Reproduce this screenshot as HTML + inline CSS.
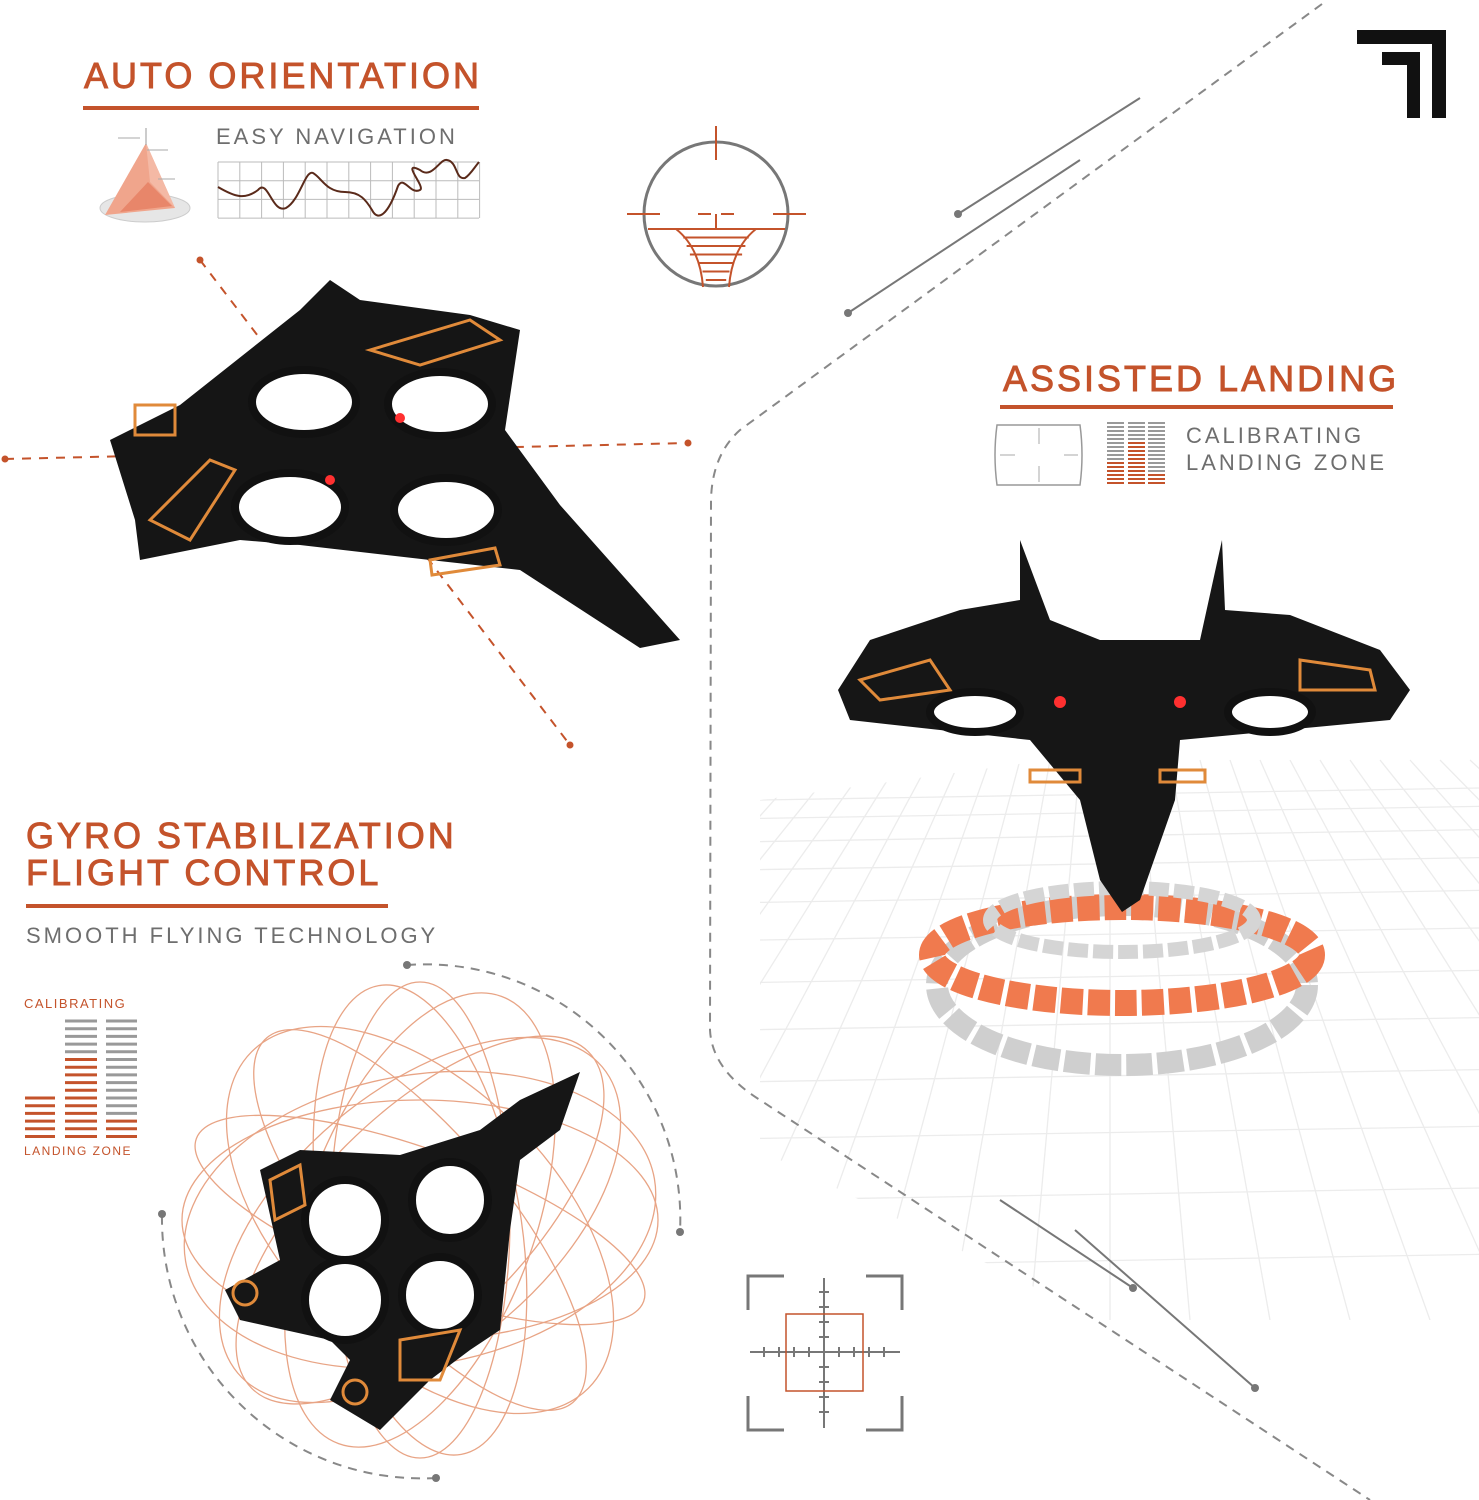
<!DOCTYPE html>
<html><head><meta charset="utf-8">
<style>
html,body{margin:0;padding:0;background:#fff;width:1479px;height:1500px;overflow:hidden;}
#w{position:relative;width:1479px;height:1500px;overflow:hidden;background:#fff;font-family:"Liberation Sans",sans-serif;}
.h{position:absolute;color:#c4532b;font-size:36px;letter-spacing:3px;font-weight:normal;line-height:1;white-space:nowrap;-webkit-text-stroke:0.9px #c4532b}
.s{position:absolute;color:#6e6e6e;font-size:22px;letter-spacing:3px;line-height:1;white-space:nowrap}
.u{position:absolute;height:4px;background:#c4532b}
svg{position:absolute;left:0;top:0;display:block}
</style></head><body>
<div id="w">
<svg id="g" width="1479" height="1500" viewBox="0 0 1479 1500"></svg>
<div class="h" style="left:84px;top:58px">AUTO ORIENTATION</div>
<div class="u" style="left:83px;top:106px;width:396px"></div>
<div class="s" style="left:216px;top:126px">EASY NAVIGATION</div>
<div class="h" style="left:1003px;top:361px">ASSISTED LANDING</div>
<div class="u" style="left:1000px;top:405px;width:393px"></div>
<div class="s" style="left:1186px;top:425px">CALIBRATING</div>
<div class="s" style="left:1186px;top:452px">LANDING ZONE</div>
<div class="h" style="left:26px;top:818px">GYRO STABILIZATION</div>
<div class="h" style="left:26px;top:855px">FLIGHT CONTROL</div>
<div class="u" style="left:26px;top:904px;width:362px"></div>
<div class="s" style="left:26px;top:925px">SMOOTH FLYING TECHNOLOGY</div>
<div class="s" style="left:24px;top:997px;font-size:13px;letter-spacing:1.5px;color:#c4532b">CALIBRATING</div>
<div class="s" style="left:24px;top:1145px;font-size:12px;letter-spacing:1.5px;color:#c4532b">LANDING ZONE</div>
</div>
<script>
const O="#c4532b",G="#7a7a7a";
let s='<defs><clipPath id="gc"><path d="M760 800 L1479 700 L1479 1320 L1100 1320 L760 1150Z"/></clipPath></defs>';
s+='<g clip-path="url(#gc)" stroke="#ececec" stroke-width="1.3">';
for(let i=0;i<16;i++){const y=800+i*i*2.4+i*16;s+=`<line x1="760" y1="${y}" x2="1479" y2="${y-12}"/>`;}
for(let i=-16;i<=16;i++){s+=`<line x1="${1110+i*30}" y1="760" x2="${1110+i*80}" y2="1320"/>`;}
s+='</g>';
s+=`<path d="M1322 4 L740 430 Q712 455 711 500 L710 1030 Q712 1070 760 1100 L1370 1500" fill="none" stroke="#888" stroke-width="2" stroke-dasharray="9 7"/>`;
s+=`<line x1="958" y1="214" x2="1140" y2="98" stroke="#777" stroke-width="2"/><circle cx="958" cy="214" r="4" fill="#777"/>`;
s+=`<line x1="848" y1="313" x2="1080" y2="160" stroke="#777" stroke-width="2"/><circle cx="848" cy="313" r="4" fill="#777"/>`;
s+=`<line x1="1000" y1="1200" x2="1133" y2="1288" stroke="#777" stroke-width="2"/><circle cx="1133" cy="1288" r="4" fill="#777"/>`;
s+=`<line x1="1075" y1="1230" x2="1255" y2="1388" stroke="#777" stroke-width="2"/><circle cx="1255" cy="1388" r="4" fill="#777"/>`;
s+=`<path d="M1357 30 H1446 V118 H1432 V44 H1357Z M1382 52 H1420 V118 H1407 V65 H1382Z" fill="#111"/>`;
s+=`<ellipse cx="145" cy="208" rx="45" ry="14" fill="#e6e6e6" stroke="#ccc"/>`;
s+=`<polygon points="146,143 105,215 175,208" fill="#f0a58c"/><polygon points="146,143 150,182 175,208" fill="#f4b9a5"/><polygon points="148,182 120,212 172,206" fill="#e8866a"/>`;
s+=`<line x1="146" y1="128" x2="146" y2="145" stroke="#999"/><line x1="118" y1="138" x2="140" y2="138" stroke="#aaa"/><line x1="147" y1="150" x2="168" y2="150" stroke="#aaa"/><line x1="158" y1="179" x2="175" y2="179" stroke="#aaa"/>`;
for(let i=0;i<=12;i++)s+=`<line x1="${218+i*21.8}" y1="162" x2="${218+i*21.8}" y2="218" stroke="#bbb"/>`;
for(let j=0;j<4;j++)s+=`<line x1="218" y1="${162+j*18.7}" x2="479" y2="${162+j*18.7}" stroke="#bbb"/>`;
s+=`<path d="M218 187 C235 197 245 200 258 190 C268 178 272 214 286 208 C300 200 305 170 313 173 C322 178 326 192 345 192 C360 192 366 200 372 210 C378 222 388 215 398 186 C404 175 410 195 420 190 C426 187 400 160 420 170 C432 180 440 158 447 160 C458 162 455 180 465 178 C470 175 474 168 479 162" fill="none" stroke="#5a2a1a" stroke-width="2"/>`;
s+=`<circle cx="716" cy="214" r="72" fill="none" stroke="#777" stroke-width="3"/>`;
s+=`<g stroke="${O}" stroke-width="2"><line x1="716" y1="126" x2="716" y2="160"/><line x1="627" y1="214" x2="660" y2="214"/><line x1="773" y1="214" x2="806" y2="214"/><line x1="698" y1="214" x2="711" y2="214"/><line x1="721" y1="214" x2="734" y2="214"/><line x1="716" y1="214" x2="716" y2="228"/><line x1="648" y1="229" x2="785" y2="229"/><path d="M676 229 Q700 248 703 287 M756 229 Q732 248 729 287" fill="none"/>`;
for(let k=1;k<7;k++){const y=229+k*8.5;const d=k*3.3;s+=`<line x1="${680+d+ (k>3?6:0)}" y1="${y}" x2="${752-d-(k>3?6:0)}" y2="${y}"/>`;}
s+=`</g>`;
s+=`<g stroke="${O}" stroke-width="2" stroke-dasharray="9 8" fill="none"><line x1="200" y1="260" x2="570" y2="745"/><line x1="5" y1="459" x2="688" y2="443"/></g>`;
s+=`<g fill="${O}"><circle cx="200" cy="260" r="3.5"/><circle cx="570" cy="745" r="3.5"/><circle cx="5" cy="459" r="3.5"/><circle cx="688" cy="443" r="3.5"/></g>`;
s+=`<path d="M997 425 H1080 Q1084 455 1080 485 H997 Q993 455 997 425Z" fill="none" stroke="#999" stroke-width="1.5"/><g stroke="#aaa"><line x1="1039" y1="428" x2="1039" y2="444"/><line x1="1039" y1="466" x2="1039" y2="482"/><line x1="1000" y1="455" x2="1015" y2="455"/><line x1="1064" y1="455" x2="1078" y2="455"/></g>`;
function bars(x,y0,n,step,w,nOr,lw){let r='';for(let k=0;k<n;k++){const y=y0+k*step;const c=(k>=n-nOr)?O:"#999";r+=`<line x1="${x}" y1="${y}" x2="${x+w}" y2="${y}" stroke="${c}" stroke-width="${lw}"/>`;}return r;}
s+=bars(1107,423,16,4,17,6,2)+bars(1128,423,16,4,17,11,2)+bars(1148,423,16,4,17,3,2);
s+=bars(25,1098,6,7.7,30,6,3)+bars(65,1021,16,7.7,32,11,3)+bars(106,1021,16,7.7,31,3,3);
s+=`<g stroke="#777" stroke-width="3" fill="none"><path d="M748 1310 V1276 H784 M866 1276 H902 V1310 M748 1396 V1430 H784 M866 1430 H902 V1396"/></g>`;
s+=`<g stroke="#777" stroke-width="2"><line x1="824" y1="1278" x2="824" y2="1428"/><line x1="750" y1="1352" x2="900" y2="1352"/>`;
for(let k=-4;k<=4;k++){if(!k)continue;s+=`<line x1="${824+k*15}" y1="1347" x2="${824+k*15}" y2="1357"/><line x1="819" y1="${1352+k*15}" x2="829" y2="${1352+k*15}"/>`;}
s+=`</g><rect x="786" y="1314" width="77" height="77" fill="none" stroke="${O}" stroke-width="1.5"/>`;
s+=`<ellipse cx="1122" cy="985" rx="185" ry="80" fill="none" stroke="#cfcfcf" stroke-width="22" stroke-dasharray="26 5"/>`;
s+=`<ellipse cx="1122" cy="955" rx="190" ry="48" fill="none" stroke="#f07a4e" stroke-width="26" stroke-dasharray="22 5"/>`;
s+=`<ellipse cx="1122" cy="920" rx="132" ry="32" fill="none" stroke="#d5d5d5" stroke-width="14" stroke-dasharray="20 5"/>`;
s+=`<g fill="none" stroke="#e8a485" stroke-width="1.3">`;
for(let a=0;a<180;a+=30)s+=`<ellipse cx="420" cy="1220" rx="238" ry="${70+a/2}" transform="rotate(${a+20} 420 1220)"/>`;
for(let a=0;a<180;a+=45)s+=`<ellipse cx="420" cy="1220" rx="${90+a/3}" ry="238" transform="rotate(${a} 420 1220)"/>`;
s+=`</g>`;
s+=`<path d="M407 965 A255 255 0 0 1 680 1232" fill="none" stroke="#888" stroke-width="2" stroke-dasharray="9 7"/><path d="M436 1478 A260 260 0 0 1 162 1214" fill="none" stroke="#888" stroke-width="2" stroke-dasharray="9 7"/>`;
s+=`<g fill="#777"><circle cx="407" cy="965" r="4"/><circle cx="680" cy="1232" r="4"/><circle cx="436" cy="1478" r="4"/><circle cx="162" cy="1214" r="4"/></g>`;
function ring(cx,cy,rx,ry){return `<ellipse cx="${cx}" cy="${cy}" rx="${rx}" ry="${ry}" fill="#fff" stroke="#111" stroke-width="8"/>`;}
s+=`<polygon points="110,440 180,405 300,310 330,280 360,300 470,315 520,330 505,430 560,505 680,640 640,648 520,570 430,560 300,545 240,540 140,560 135,520" fill="#151515"/>`;
s+=ring(304,402,52,32)+ring(440,404,52,32)+ring(290,507,55,34)+ring(446,510,52,32);
s+=`<g fill="none" stroke="#e08a3a" stroke-width="3"><path d="M370 350 L470 320 L500 340 L420 365Z"/><path d="M150 520 L210 460 L235 470 L190 540Z"/><path d="M430 560 L495 548 L500 565 L432 575Z"/><rect x="135" y="405" width="40" height="30"/></g>`;
s+=`<circle cx="330" cy="480" r="5" fill="#ff3030"/><circle cx="400" cy="418" r="5" fill="#ff3030"/>`;
s+=`<polygon points="838,690 870,640 960,610 1020,600 1020,540 1050,620 1100,640 1200,640 1222,540 1225,610 1290,615 1380,650 1410,690 1390,720 1180,740 1175,800 1140,900 1122,912 1100,880 1080,800 1030,740 850,720" fill="#161616"/>`;
s+=ring(975,712,45,20)+ring(1270,712,42,20);
s+=`<g fill="none" stroke="#e08a3a" stroke-width="3"><path d="M860 680 L930 660 L950 690 L880 700Z"/><path d="M1300 660 L1370 670 L1375 690 L1300 690Z"/><rect x="1030" y="770" width="50" height="12"/><rect x="1160" y="770" width="45" height="12"/></g>`;
s+=`<circle cx="1060" cy="702" r="6" fill="#ff3030"/><circle cx="1180" cy="702" r="6" fill="#ff3030"/>`;
s+=`<polygon points="260,1170 300,1150 400,1155 480,1130 520,1100 580,1072 560,1130 520,1160 510,1230 500,1330 470,1350 430,1380 380,1430 330,1400 350,1360 330,1340 240,1320 225,1290 280,1260" fill="#161616"/>`;
s+=ring(345,1220,40,40)+ring(450,1200,38,38)+ring(345,1300,40,40)+ring(440,1295,38,38);
s+=`<g fill="none" stroke="#e08a3a" stroke-width="3"><circle cx="245" cy="1293" r="12"/><circle cx="355" cy="1392" r="12"/><path d="M270 1180 L300 1165 L305 1205 L275 1220Z"/><path d="M400 1340 L460 1330 L440 1380 L400 1380Z"/></g>`;
document.getElementById('g').innerHTML=s;
</script>
</body></html>
